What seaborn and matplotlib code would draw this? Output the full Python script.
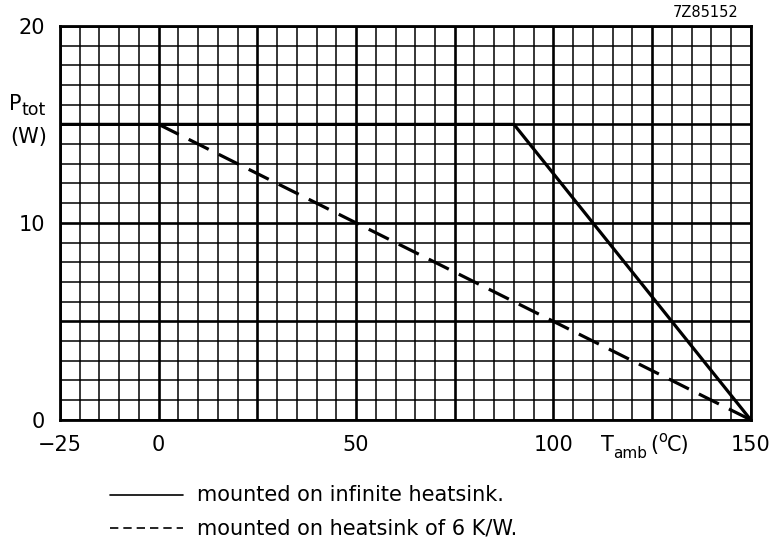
import numpy as np
import pandas as pd
import matplotlib.pyplot as plt
from matplotlib.lines import Line2D
import seaborn as sns

# dados (curvas de derating)
t_infinito = [-25, 90, 150]
p_infinito = [15, 15, 0]
t_6kw = [0, 150]
p_6kw = [15, 0]

xticks_lbl = [-25, 0, 50, 100, 150]
yticks_lbl = [0, 10, 20]

sns.set_theme(style="white")
plt.rcParams['font.family'] = ['DejaVu Sans']
plt.rcParams['text.color'] = 'black'

df_inf = pd.DataFrame({'T': t_infinito, 'P': p_infinito})
df_6 = pd.DataFrame({'T': t_6kw, 'P': p_6kw})

fig = plt.figure(figsize=(7.74, 5.39), dpi=100)
ax = fig.add_axes([0.0775, 0.221, 0.8925, 0.731])

# grade milimetrada
ax.set_xlim(-25, 150)
ax.set_ylim(0, 20)
ax.set_xticks(np.arange(-25, 151, 25))
ax.set_xticks(np.arange(-25, 151, 5), minor=True)
ax.set_yticks(np.arange(0, 21, 5))
ax.set_yticks(np.arange(0, 21, 1), minor=True)
ax.grid(which='major', color='black', linewidth=1.9)
ax.grid(which='minor', color='black', linewidth=1.1)
ax.set_axisbelow(True)

ax.set_xticklabels(['\u221225' if v == -25 else (str(v) if v in xticks_lbl else '')
                    for v in range(-25, 151, 25)], fontsize=15)
ax.set_yticklabels([str(v) if v in yticks_lbl else '' for v in range(0, 21, 5)], fontsize=15)
ax.tick_params(which='both', length=0, colors='black')
ax.tick_params(axis='x', pad=11)
ax.tick_params(axis='y', pad=11)

for s in ax.spines.values():
    s.set_color('black')
    s.set_linewidth(2)

sns.lineplot(data=df_inf, x='T', y='P', color='black', linewidth=2.3, ax=ax)
sns.lineplot(data=df_6, x='T', y='P', color='black', linewidth=2.3, ax=ax)
ax.lines[-1].set_dashes((7, 3.5))
ax.set_xlabel('')
ax.set_ylabel('')

# rótulos dos eixos como no datasheet
fig.text(601 / 774, 0.174, 'T', fontsize=15, ha='left', va='center')
fig.text(613 / 774, 0.158, 'amb', fontsize=11, ha='left', va='center')
fig.text(650 / 774, 0.174, '(', fontsize=15, ha='left', va='center')
fig.text(658 / 774, 0.189, 'o', fontsize=10.5, ha='left', va='center')
fig.text(667 / 774, 0.174, 'C)', fontsize=15, ha='left', va='center')
fig.text(9 / 774, 0.807, 'P', fontsize=15, ha='left', va='center')
fig.text(22 / 774, 0.795, 'tot', fontsize=12.5, ha='left', va='center')
fig.text(10 / 774, 0.745, '(W)', fontsize=15, ha='left', va='center')
fig.text(0.912, 0.976, '7Z85152', fontsize=10.5, ha='center', va='center')

# legenda manual
y1, y2 = 0.082, 0.020
fig.add_artist(Line2D([110 / 774, 183 / 774], [y1, y1], color='black', linewidth=1.2))
fig.add_artist(Line2D([110 / 774, 183 / 774], [y2, y2], color='black', linewidth=1.2,
                      dashes=(5, 3)))
fig.text(197 / 774, y1, 'mounted on infinite heatsink.', fontsize=15, va='center')
fig.text(197 / 774, y2, 'mounted on heatsink of 6 K/W.', fontsize=15, va='center')

plt.savefig('out.png', dpi=100)
